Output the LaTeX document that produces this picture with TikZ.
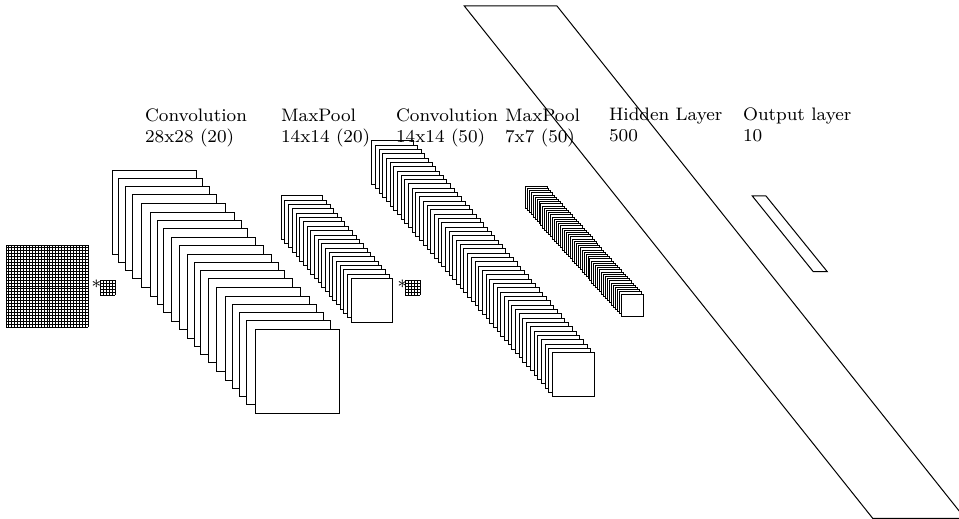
\documentclass[tikz,border=0pt]{standalone}

\tikzset{
  layer/.style={draw,fill=white},
  caption/.style={anchor=base west,inner sep=0pt,scale=1.13,font=\fontsize{8}{8}\selectfont},
}

\begin{document}
\begin{tikzpicture}[x=0.5pt,y=-0.5pt,line width=0.5pt]
  \clip (0,0) rectangle (959,519);

  % input image
  \foreach \i in {0,...,28} {
    \draw (6+\i*2.93,245) -- (6+\i*2.93,327);
    \draw (6,245+\i*2.93) -- (88,245+\i*2.93);
  }

  % first kernel
  \node[caption] (staron) at (91,293) {*};
  \foreach \i in {0,...,5} {
    \draw (100+\i*3.08,280) -- (100+\i*3.08,295.4);
    \draw (100,280+\i*3.08) -- (115.4,280+\i*3.08);
  }

  % convolution 28x28
  \foreach \x/\y in {112/170.7,118.7/178.3,125.7/186.3,132.7/194.7,141.7/203.7,
      150.3/212.3,157/220.3,163.7/228.3,171/237,179.7/245.3,187/254,194/262.7,
      200.7/270,208.3/278.3,216/287,225.3/296,232/304,239/312,246/320.3,255/329.3}
    \draw[layer] (\x,\y) rectangle +(84,84);

  % maxpool 14x14
  \foreach \i in {0,...,19}
    \draw[layer] (281.3+\i*3.68,195.7+\i*4.37) rectangle +(41.6,43.5);

  % second kernel
  \node[caption] (startwo) at (397,293) {*};
  \foreach \i in {0,...,5} {
    \draw (405+\i*3.08,280) -- (405+\i*3.08,295.4);
    \draw (405,280+\i*3.08) -- (420.4,280+\i*3.08);
  }

  % convolution 14x14
  \foreach \i in {0,...,49}
    \draw[layer] (371.7+\i*3.69,140.7+\i*4.33) rectangle +(42,43.8);

  % maxpool 7x7
  \foreach \i in {0,...,49}
    \draw[layer] (525.3+\i*1.96,186.3+\i*2.2) rectangle +(21.7,22);

  % hidden and output layers
  \draw (464.3,6) -- (557,6) -- (965,518.3) -- (872.7,518.3) -- cycle;
  \draw (752.3,196) -- (766,196) -- (827.3,271.7) -- (813.3,271.7) -- cycle;

  % labels
  \node[caption] (convone) at (144.5,122) {Convolution};
  \node[caption] (convonesize) at (144.5,142) {28x28 (20)};
  \node[caption] (poolone) at (280.5,122) {MaxPool};
  \node[caption] (poolonesize) at (280.5,142) {14x14 (20)};
  \node[caption] (convtwo) at (395.5,122) {Convolution};
  \node[caption] (convtwosize) at (395.5,142) {14x14 (50)};
  \node[caption] (pooltwo) at (504.5,122) {MaxPool};
  \node[caption] (pooltwosize) at (504.5,142) {7x7 (50)};
  \node[caption] (hidden) at (608.5,121) {Hidden Layer};
  \node[caption] (hiddensize) at (608.5,141) {500};
  \node[caption] (output) at (742.5,121) {Output layer};
  \node[caption] (outputsize) at (742.5,141) {10};
\end{tikzpicture}
\end{document}
